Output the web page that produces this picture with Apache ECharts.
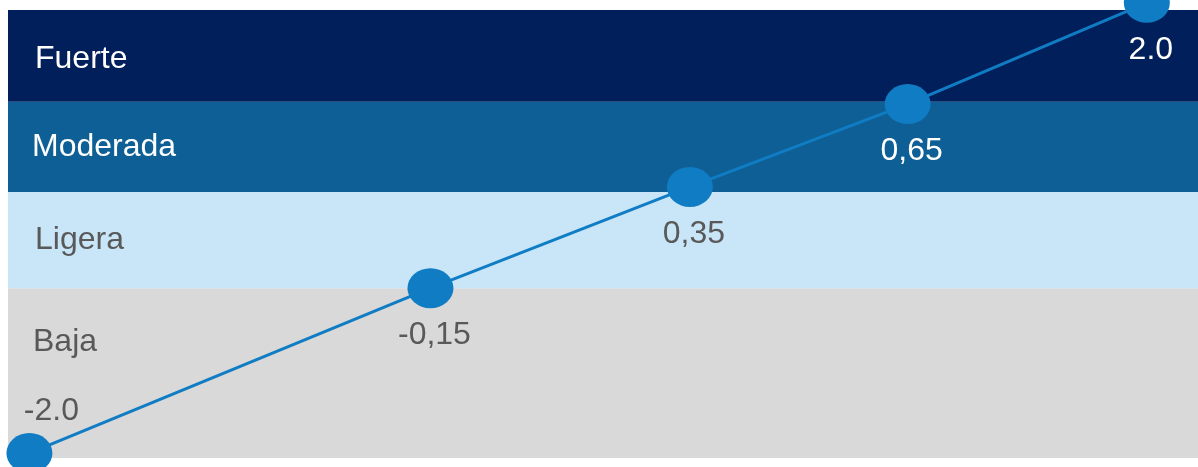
<!DOCTYPE html>
<html>
<head>
<meta charset="utf-8">
<script src="https://cdn.jsdelivr.net/npm/echarts@6/dist/echarts.min.js"></script>
<style>
  html, body { margin: 0; padding: 0; background: #ffffff; }
  #chart { width: 1198px; height: 467px; }
</style>
</head>
<body>
<div id="chart"></div>
<script>
// points of the line (position along the scale, level)
var xPos = [1.8, 35.5, 57.3, 75.6, 95.7];
var yPos = [1.1, 37.9, 60.5, 79.0, 101.6];
var pointLabels = ['-2.0', '-0,15', '0,35', '0,65', '2.0'];

// bands from bottom to top
var bandNames = ['Baja', 'Ligera', 'Moderada', 'Fuerte'];
var bandEdges = [0, 37.9, 59.4, 79.5, 100];
var bandColors = ['#d9d9d9', '#c9e6f9', '#0e5f95', '#001f5b'];
var bandTextColors = ['#595959', '#595959', '#ffffff', '#ffffff'];
var pointTextColors = ['#595959', '#595959', '#595959', '#ffffff', '#ffffff'];

var chart = echarts.init(document.getElementById('chart'));

var areas = [];
for (var i = 0; i < bandNames.length; i++) {
    areas.push([
        {
            name: bandNames[i],
            yAxis: bandEdges[i],
            itemStyle: { color: bandColors[i] },
            label: {
                color: bandTextColors[i],
                offset: i === 0 ? [-2, -31] : (i === 3 ? [0, 3] : [i === 2 ? -3 : 0, 0])
            }
        },
        { yAxis: bandEdges[i + 1] }
    ]);
}

var points = [];
for (var j = 0; j < xPos.length; j++) {
    points.push({
        value: [xPos[j], yPos[j]],
        label: {
            formatter: pointLabels[j],
            color: pointTextColors[j],
            position: j === 0 ? 'top' : 'bottom',
            offset: j === 0 ? [22, 2] : [4, 3]
        }
    });
}

chart.setOption({
    animation: false,
    grid: { left: 8, right: 0, top: 10, bottom: 9 },
    xAxis: { type: 'value', min: 0, max: 100, show: false },
    yAxis: { type: 'value', min: 0, max: 100, show: false },
    series: [
        {
            type: 'line',
            data: points,
            clip: false,
            symbol: 'circle',
            symbolSize: [46, 40],
            itemStyle: { color: '#107cc4' },
            lineStyle: { color: '#107cc4', width: 3 },
            label: {
                show: true,
                distance: 8,
                fontFamily: 'Liberation Sans',
                fontSize: 32
            },
            markArea: {
                silent: true,
                label: {
                    show: true,
                    position: 'insideLeft',
                    distance: 27,
                    fontFamily: 'Liberation Sans',
                    fontSize: 32
                },
                data: areas
            }
        }
    ]
});
</script>
</body>
</html>
